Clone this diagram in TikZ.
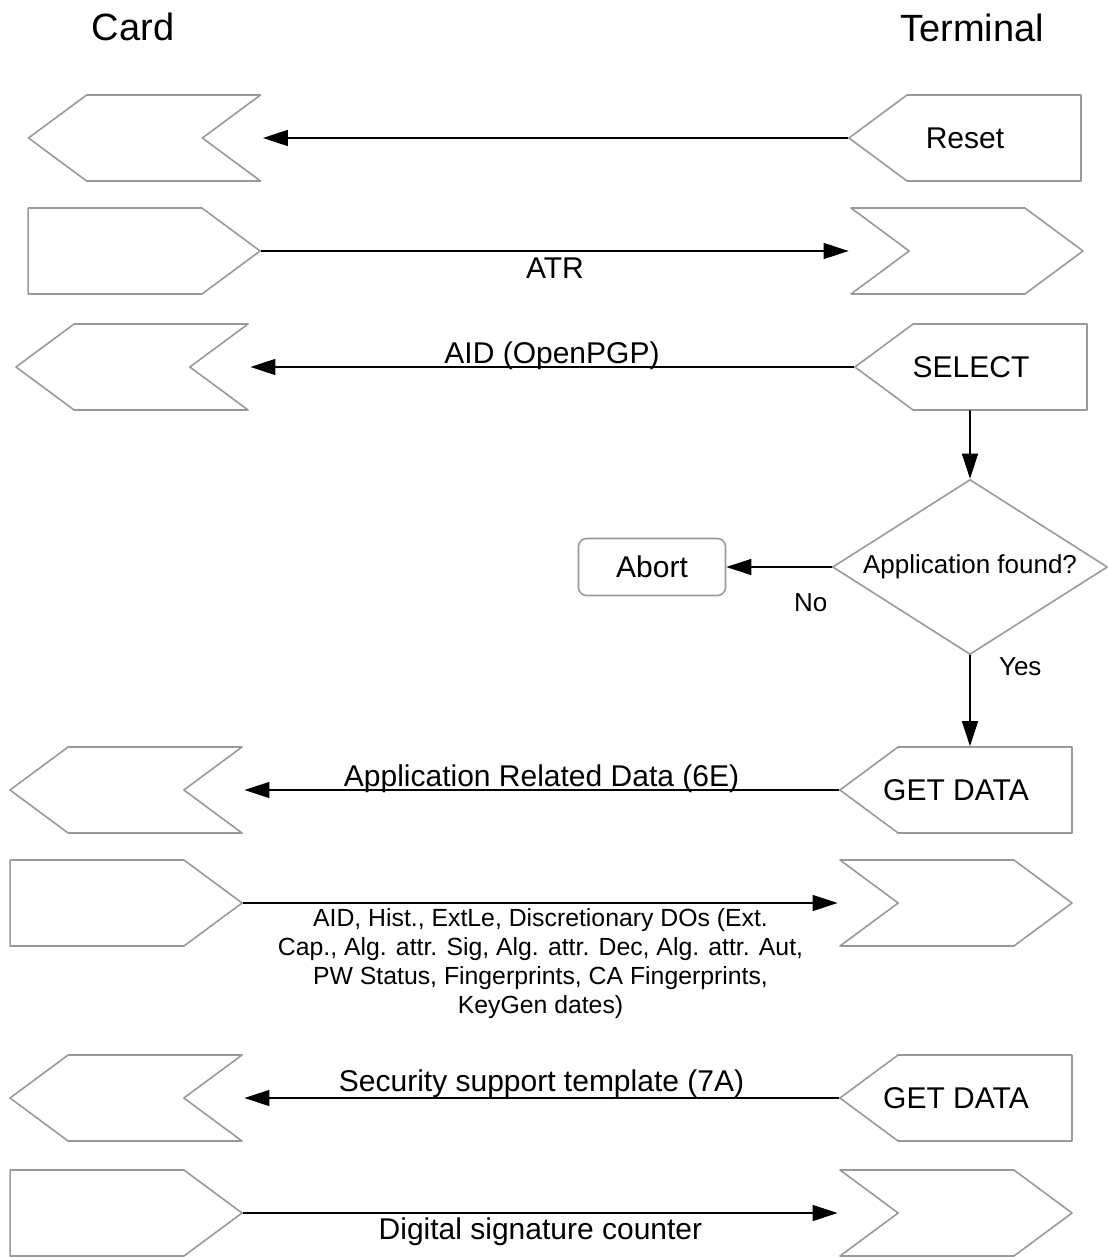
\documentclass[tikz,border=0pt]{standalone}
\usepackage{fontspec}
\setmainfont{Liberation Sans}
\usetikzlibrary{arrows.meta,positioning,shapes.symbols,shapes.geometric}

\begin{document}
\begin{tikzpicture}[x=1pt, y=-1pt, >={Triangle[length=25pt,width=16pt]},
        line cap=round, line join=round,
        box/.style={signal, draw=black!40, line width=1.6pt, fill=white,
            minimum width=232pt, minimum height=86pt, inner sep=0pt,
            signal pointer angle=73},
        tocard/.style={box, signal to=west, signal from=east},
        fromcard/.style={box, signal to=east},
        toterm/.style={box, signal to=east, signal from=west},
        fromterm/.style={box, signal to=west,
            label={[lbl, xshift=-29pt]center:#1}},
        msg/.style={line width=1.4pt, ->},
        lbl/.style={font=\fontsize{30}{34}\selectfont, inner sep=0pt}
    ]
    \useasboundingbox (0,0) rectangle (1108,1257);

    % (1) Titres des deux colonnes
    \node[font=\fontsize{38}{42}\selectfont] (card) at (133,27) {Card};
    \node[font=\fontsize{38}{42}\selectfont] (term) at (972,28) {Terminal};

    % (2) Reset / ATR
    \node[tocard] (c1) at (144.5,138) {};
    \node[fromterm=Reset] (reset) at (994,138) {};
    \draw[msg] (reset.west) -- (reset.west -| c1.north east);

    \node[fromcard] (c2) at (115,251) {};
    \node[toterm] (t2) at (967,251) {};
    \draw[msg] (c2.east) -- (c2.east -| t2.north west)
        node[lbl, midway, below=6pt] {ATR};

    % (3) SELECT
    \node[tocard] (c3) at (132,367) {};
    \node[fromterm=SELECT] (select) at (1000,367) {};
    \draw[msg] (select.west) -- (select.west -| c3.north east)
        node[lbl, midway, above=-3pt] {AID (OpenPGP)};

    % (4) Test et abandon
    \node[diamond, draw=black!40, line width=1.6pt, aspect=1.57,
        minimum width=275pt, minimum height=175pt, inner sep=0pt,
        font=\fontsize{26}{30}\selectfont] (found) at (970,567) {Application found?};
    \node[rounded corners=8pt, draw=black!40, line width=1.6pt,
        minimum width=147pt, minimum height=57pt,
        font=\fontsize{30}{34}\selectfont] (abort) at (652,567) {Abort};
    \draw[msg] (found.north |- select.south) -- (found.north);
    \draw[msg] (found.west) -- (abort.east)
        node[pos=0.2, below=23pt, font=\fontsize{26}{30}\selectfont] {No};

    % (5) Premier GET DATA
    \node[tocard] (c4) at (126,790) {};
    \node[fromterm=GET DATA] (getdata) at (985,790) {};
    \draw[msg] (found.south) -- (found.south |- getdata.north)
        node[pos=0.13, right=25pt, font=\fontsize{26}{30}\selectfont] {Yes};
    \draw[msg] (getdata.west) -- (getdata.west -| c4.north east)
        node[lbl, midway, above=-3pt] {Application Related Data (6E)};

    \node[fromcard] (c5) at (97,903) {};
    \node[toterm] (t5) at (956,903) {};
    \draw[msg] (c5.east) -- (c5.east -| t5.north west)
        node[midway, below=5pt, inner sep=0pt, align=center,
            font=\fontsize{24.8}{29}\selectfont]
        {AID, Hist., ExtLe, Discretionary DOs (Ext.\\
         Cap., Alg. attr. Sig, Alg. attr. Dec, Alg. attr. Aut,\\
         PW Status, Fingerprints, CA Fingerprints,\\
         KeyGen dates)};

    % (6) Second GET DATA
    \node[tocard] (c6) at (126,1098) {};
    \node[fromterm=GET DATA] (getdata2) at (985,1098) {};
    \draw[msg] (getdata2.west) -- (getdata2.west -| c6.north east)
        node[lbl, midway, above=0pt] {Security support template (7A)};

    \node[fromcard] (c7) at (97,1213) {};
    \node[toterm] (t7) at (956,1213) {};
    \draw[msg] (c7.east) -- (c7.east -| t7.north west)
        node[lbl, midway, below=4pt] {Digital signature counter};
\end{tikzpicture}
\end{document}
